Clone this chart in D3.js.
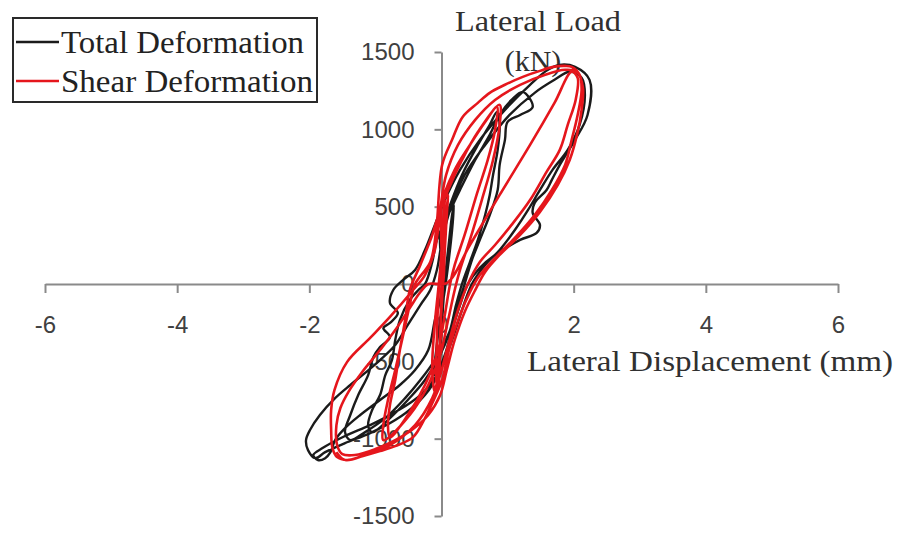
<!DOCTYPE html>
<html><head><meta charset="utf-8">
<script src="https://cdn.jsdelivr.net/npm/d3@7"></script>
<style>
html,body{margin:0;padding:0;background:#fff;}
svg{display:block;}
</style></head>
<body>
<svg id="chart" width="897" height="533"></svg>
<script>
// ---- data (displacement mm, load kN) ----
const xTicks = [-6, -4, -2, 0, 2, 4, 6];
const yTicks = [-1500, -1000, -500, 0, 500, 1000, 1500];
const seriesNames = ["Total Deformation", "Shear Deformation"];
const xTitle = "Lateral Displacement (mm)";
const yTitle1 = "Lateral Load";
const yTitle2 = "(kN)";

const totalDeformation = [
  [0.04,0],[0.10,220],[0.16,446],[0.19,511],[0.16,349],[0.11,155],[0.05,-39],[-0.02,-233],[-0.08,-427],[-0.11,-589],[-0.05,-556],[-0.01,-362],[0.02,-168],[0.04,0],
  [-0.02,317],[0.13,511],[0.31,705],[0.55,899],[0.73,1029],[0.84,1113],[0.88,1029],[0.85,867],[0.78,705],[0.73,576],[0.66,446],[0.55,285],[0.43,142],[0.31,0],[0.22,-136],[0.13,-298],[-0.02,-459],[-0.25,-621],[-0.51,-750],[-0.78,-867],[-1.05,-958],[-1.11,-912],[-1.05,-815],[-0.93,-718],[-0.85,-589],[-0.75,-492],[-0.70,-362],[-0.63,-233],[-0.48,-103],[-0.35,-39],[-0.25,0],[-0.14,142],
  [-0.07,285],[0.10,446],[0.28,608],[0.51,802],[0.73,964],[0.88,1093],[1.06,1190],[1.23,1242],[1.38,1145],[1.19,1093],[1.00,1048],[0.96,932],[0.88,770],[0.85,608],[0.73,446],[0.58,285],[0.46,155],[0.35,0],[0.25,-136],[0.10,-330],[-0.10,-492],[-0.32,-621],[-0.55,-738],[-0.85,-867],[-1.16,-958],[-1.38,-1009],[-1.46,-958],[-1.38,-847],[-1.26,-718],[-1.11,-589],[-1.03,-472],[-0.93,-408],[-0.78,-343],[-0.88,-285],[-0.78,-252],[-0.66,-188],[-0.78,-123],[-0.73,-39],[-0.58,26],[-0.40,91],
  [-0.25,220],[-0.10,382],[0.05,543],[0.28,738],[0.58,932],[0.96,1126],[1.34,1288],[1.61,1385],[1.79,1417],[2.02,1404],[2.24,1320],[2.21,1093],[2.02,932],[1.79,770],[1.67,673],[1.59,608],[1.41,524],[1.38,459],[1.49,382],[1.44,330],[1.19,285],[0.81,188],[0.58,104],[0.40,0],[0.28,-136],[0.16,-298],[0.05,-459],[-0.14,-653],[-0.40,-783],[-0.70,-880],[-1.08,-964],[-1.46,-1029],[-1.76,-1087],[-1.91,-1126],[-2.02,-1074],[-2.05,-1009],[-1.99,-944],[-1.84,-847],[-1.61,-738],[-1.38,-653],[-1.16,-576],[-0.93,-492],[-0.70,-395],[-0.51,-265],[-0.32,-136],[-0.17,-39],[-0.07,91],
  [0.01,285],[0.13,479],[0.35,705],[0.66,899],[1.03,1093],[1.41,1236],[1.71,1320],[1.94,1372],[2.12,1333],[2.17,1223],[2.09,1029],[1.91,867],[1.68,738],[1.49,608],[1.31,479],[1.11,349],[0.88,220],[0.66,123],[0.46,0],[0.31,-168],[0.16,-362],[-0.02,-556],[-0.32,-718],[-0.70,-828],[-1.08,-912],[-1.46,-983],[-1.80,-1061],[-1.94,-1106],[-1.87,-1138],[-1.76,-1126],[-1.68,-1087],[-1.61,-1009],[-1.46,-932],[-1.23,-847],[-0.93,-750],[-0.63,-653],[-0.40,-556],[-0.20,-427],[-0.10,-233],[-0.02,-103],[0.02,0]
];

const shearDeformation = [
  [-0.01,0],[0.01,220],[0.04,446],[0.05,543],[0.02,349],[-0.02,91],[-0.05,-103],[-0.07,-362],[-0.08,-621],[-0.05,-686],[-0.02,-427],[-0.01,-168],[0.01,0],
  [0.02,0],[0.05,220],[0.08,446],[0.10,576],[0.07,446],[0.01,220],[-0.05,-39],[-0.11,-298],[-0.14,-556],[-0.10,-699],[-0.04,-492],[-0.01,-233],[0.02,0],
  [0.01,524],[0.20,738],[0.43,899],[0.66,1048],[0.84,1145],[0.81,996],[0.70,802],[0.54,589],[0.35,317],[0.20,123],[0.13,0],[0.05,-200],[-0.05,-427],[-0.25,-653],[-0.51,-847],[-0.78,-990],[-0.81,-912],[-0.78,-783],[-0.70,-621],[-0.63,-427],[-0.55,-233],[-0.48,-39],[-0.32,123],[-0.14,317],
  [-0.07,414],[0.10,608],[0.31,802],[0.55,983],[0.88,1158],[0.88,1029],[0.78,802],[0.61,543],[0.43,285],[0.28,91],[0.20,-39],[0.10,-233],[-0.02,-459],[-0.20,-653],[-0.48,-847],[-0.88,-1009],[-0.88,-912],[-0.81,-750],[-0.70,-556],[-0.58,-330],[-0.48,-136],[-0.40,0],
  [-0.17,142],[-0.08,349],[0.01,770],[0.16,932],[0.32,1080],[0.55,1171],[0.73,1236],[0.96,1288],[1.23,1339],[1.49,1378],[1.69,1404],[1.87,1410],[1.97,1404],[2.09,1352],[2.12,1255],[2.06,1093],[1.97,932],[1.87,770],[1.67,608],[1.41,446],[1.11,298],[0.81,168],[0.58,58],[0.43,-52],[0.28,-200],[0.13,-395],[0.01,-621],[-0.07,-705],[-0.25,-867],[-0.43,-990],[-0.70,-1048],[-0.93,-1080],[-1.20,-1113],[-1.43,-1138],[-1.58,-1119],[-1.65,-1061],[-1.67,-944],[-1.67,-815],[-1.62,-686],[-1.43,-505],[-1.08,-349],[-0.78,-213],[-0.43,-39],
  [-0.25,58],[-0.10,220],[-0.02,479],[0.07,705],[0.25,899],[0.51,1061],[0.81,1190],[1.19,1288],[1.56,1352],[1.87,1385],[2.05,1372],[2.14,1268],[2.12,1126],[2.05,964],[1.94,802],[1.76,641],[1.49,466],[1.19,317],[0.88,188],[0.66,78],[0.51,-39],[0.35,-181],[0.20,-362],[0.08,-556],[-0.02,-718],[-0.20,-847],[-0.45,-944],[-0.70,-1009],[-1.00,-1067],[-1.31,-1106],[-1.50,-1100],[-1.58,-1041],[-1.59,-912],[-1.53,-802],[-1.41,-699],[-1.20,-569],[-0.93,-427],[-0.70,-298],[-0.48,-155],[-0.32,-52],[-0.20,0],
  [0.08,6],[0.43,252],[0.88,576],[1.34,899],[1.71,1171],[1.97,1372],[2.06,1333],[2.03,1190],[1.91,1029],[1.79,867],[1.59,725],[1.34,543],[1.06,382],[0.81,252],[0.58,142],[0.40,0],[0.25,-168],[0.10,-395],[-0.02,-589],[-0.14,-738],[-0.40,-912],[-0.78,-1041],[-1.16,-1106],[-1.46,-1138],[-1.59,-1087]
];

const seriesColors = ["#1b1b1b", "#e5161c"];

// ---- drawing ----
const svg = d3.select("#chart");
const x = d3.scaleLinear().domain([-6, 6]).range([45, 838]);
const y = d3.scaleLinear().domain([-1500, 1500]).range([516, 52]);

const axisColor = "#8a8a8a";
const tickTextColor = "#404040";
const sans = "'Liberation Sans', Arial, sans-serif";
const serif = "'Liberation Serif', 'Times New Roman', serif";
const plainFmt = d => String(d);

const gx = svg.append("g").attr("transform", `translate(0,${y(0)})`)
  .call(d3.axisBottom(x).tickValues(xTicks).tickFormat(plainFmt).tickSize(9).tickSizeOuter(0).tickPadding(23));
const gy = svg.append("g").attr("transform", `translate(${x(0)},0)`)
  .call(d3.axisLeft(y).tickValues(yTicks).tickFormat(plainFmt).tickSize(7).tickSizeOuter(0).tickPadding(20));
[gx, gy].forEach(g => {
  g.select(".domain").attr("stroke", axisColor).attr("stroke-width", 2);
  g.selectAll(".tick line").attr("stroke", axisColor).attr("stroke-width", 2);
  g.selectAll(".tick text").attr("fill", tickTextColor).style("font-family", sans).style("font-size", "24px");
});

// titles
svg.append("text").attr("x", 538).attr("y", 31).attr("text-anchor", "middle")
  .style("font-family", serif).style("font-size", "30px").attr("fill", "#303030")
  .attr("textLength", 166).attr("lengthAdjust", "spacingAndGlyphs").text(yTitle1);
svg.append("text").attr("x", 533).attr("y", 71).attr("text-anchor", "middle")
  .style("font-family", serif).style("font-size", "30px").attr("fill", "#303030").text(yTitle2);
svg.append("text").attr("x", 527).attr("y", 371)
  .style("font-family", serif).style("font-size", "30px").attr("fill", "#303030")
  .attr("textLength", 366).attr("lengthAdjust", "spacingAndGlyphs").text(xTitle);

// curves
const line = d3.line().x(d => x(d[0])).y(d => y(d[1])).curve(d3.curveCatmullRom.alpha(0.5));
svg.append("path").datum(totalDeformation).attr("d", line)
  .attr("fill", "none").attr("stroke", seriesColors[0]).attr("stroke-width", 2.4).attr("stroke-linejoin", "round");
svg.append("path").datum(shearDeformation).attr("d", line)
  .attr("fill", "none").attr("stroke", seriesColors[1]).attr("stroke-width", 2.6).attr("stroke-linejoin", "round");

// legend
const lg = svg.append("g");
lg.append("rect").attr("x", 13).attr("y", 18).attr("width", 304).attr("height", 84)
  .attr("fill", "#fff").attr("stroke", "#2a2a2a").attr("stroke-width", 2);
const legendY = [42, 81];
seriesNames.forEach((name, i) => {
  lg.append("line").attr("x1", 16).attr("x2", 59).attr("y1", legendY[i]).attr("y2", legendY[i])
    .attr("stroke", seriesColors[i]).attr("stroke-width", 2.5);
  lg.append("text").attr("x", 61).attr("y", legendY[i] + 11)
    .style("font-family", serif).style("font-size", "31px").attr("fill", "#222")
    .attr("textLength", i === 0 ? 243 : 252).attr("lengthAdjust", "spacingAndGlyphs").text(name);
});
</script>
</body></html>
